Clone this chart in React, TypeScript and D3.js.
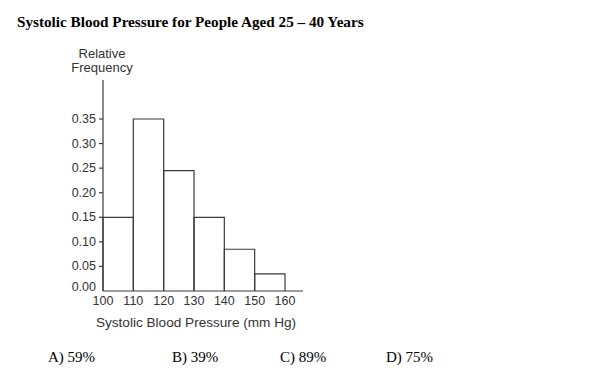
import React from "react";
import * as d3 from "d3";

const binStarts = [100, 110, 120, 130, 140, 150];
const binWidth = 10;
const frequencies = [0.15, 0.35, 0.245, 0.15, 0.085, 0.035];
const yTicks = [0.0, 0.05, 0.1, 0.15, 0.2, 0.25, 0.3, 0.35];
const xTicks = [100, 110, 120, 130, 140, 150, 160];
const answers = ["A) 59%", "B) 39%", "C) 89%", "D) 75%"];
const answerX = [48, 172, 280, 386];

export default function App() {
  const W = 600, H = 375;
  const x = d3.scaleLinear().domain([100, 160]).range([103, 285]);
  const y = d3.scaleLinear().domain([0, 0.35]).range([291, 119]);
  const stroke = "#3a3a3a";
  const sans = "'Liberation Sans', Arial, sans-serif";
  const serif = "'Liberation Serif', 'Times New Roman', serif";
  return (
    <svg width={W} height={H} style={{ position: "absolute", left: 0, top: 0, background: "#fff" }}>
      <text x={17} y={27} fontFamily={serif} fontWeight="bold" fontSize={15.2} fill="#000">
        Systolic Blood Pressure for People Aged 25 – 40 Years
      </text>
      <text x={102} y={57.5} textAnchor="middle" fontFamily={sans} fontSize={13} fill="#333">Relative</text>
      <text x={102} y={72} textAnchor="middle" fontFamily={sans} fontSize={13} fill="#333">Frequency</text>
      {binStarts.map((b, i) => {
        const x0 = x(b), x1 = x(b + binWidth), yt = y(frequencies[i]), yb = y(0);
        return (
          <path key={b} d={`M${x0},${yb}V${yt}H${x1}V${yb}`} fill="none" stroke={stroke} strokeWidth={1.2} />
        );
      })}
      <line x1={x(100)} x2={x(100)} y1={80} y2={y(0)} stroke={stroke} strokeWidth={1.2} />
      <line x1={x(100)} x2={303} y1={y(0)} y2={y(0)} stroke={stroke} strokeWidth={1.2} />
      {yTicks.map((t) => (
        <g key={t}>
          {t > 0 && <line x1={x(100) - 4} x2={x(100)} y1={y(t)} y2={y(t)} stroke={stroke} strokeWidth={1.2} />}
          <text x={96} y={y(t) + (t > 0 ? 4 : 0)} textAnchor="end" fontFamily={sans} fontSize={12.5} fill="#333">
            {t.toFixed(2)}
          </text>
        </g>
      ))}
      {xTicks.map((t) => (
        <text key={t} x={x(t)} y={305} textAnchor="middle" fontFamily={sans} fontSize={12.5} fill="#333">{t}</text>
      ))}
      <text x={196} y={327} textAnchor="middle" fontFamily={sans} fontSize={13.6} fill="#333">
        Systolic Blood Pressure (mm Hg)
      </text>
      {answers.map((a, i) => (
        <text key={a} x={answerX[i]} y={362} fontFamily={serif} fontSize={15} fill="#000">{a}</text>
      ))}
    </svg>
  );
}
